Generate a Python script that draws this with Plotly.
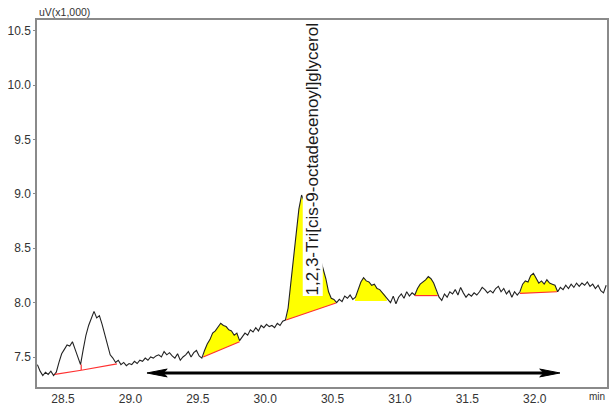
import numpy as np
import plotly.graph_objects as go

# ---- data ----
t0 = 28.31
dt = 0.02
signal = [
    7.43, 7.37, 7.33, 7.36, 7.34, 7.37, 7.33, 7.36, 7.45, 7.53,
    7.57, 7.61, 7.60, 7.64, 7.57, 7.50, 7.43, 7.57, 7.70, 7.79,
    7.85, 7.92, 7.86, 7.88, 7.80, 7.71, 7.60, 7.52, 7.49, 7.45,
    7.47, 7.43, 7.45, 7.42, 7.44, 7.43, 7.46, 7.44, 7.47, 7.46,
    7.49, 7.47, 7.50, 7.49, 7.51, 7.52, 7.50, 7.55, 7.52, 7.54,
    7.51, 7.49, 7.53, 7.47, 7.50, 7.52, 7.55, 7.50, 7.54, 7.56,
    7.51, 7.49, 7.56, 7.62, 7.66, 7.72, 7.74, 7.77, 7.81, 7.79,
    7.78, 7.75, 7.74, 7.70, 7.72, 7.65, 7.69, 7.72, 7.70, 7.75,
    7.73, 7.77, 7.74, 7.79, 7.77, 7.80, 7.78, 7.79, 7.77, 7.81,
    7.79, 7.83, 7.84, 7.95, 8.18, 8.42, 8.66, 8.86, 8.99, 8.93,
    8.85, 8.76, 8.67, 8.58, 8.50, 8.42, 8.32, 8.22, 8.10, 8.04,
    8.03, 8.00, 8.03, 8.01, 8.06, 8.04, 8.07, 8.03, 8.05, 8.12,
    8.19, 8.23, 8.20, 8.19, 8.16, 8.17, 8.13, 8.12, 8.09, 8.07,
    8.04, 8.00, 8.06, 7.99, 8.05, 8.08, 8.04, 8.10, 8.06, 8.09,
    8.07, 8.13, 8.17, 8.19, 8.21, 8.24, 8.22, 8.18, 8.11, 8.05,
    8.02, 8.08, 8.05, 8.10, 8.08, 8.12, 8.07, 8.14, 8.09, 8.05,
    8.08, 8.06, 8.09, 8.07, 8.10, 8.14, 8.12, 8.09, 8.11, 8.09,
    8.13, 8.15, 8.10, 8.13, 8.08, 8.11, 8.05, 8.10, 8.07, 8.10,
    8.17, 8.20, 8.19, 8.25, 8.27, 8.22, 8.18, 8.20, 8.17, 8.21,
    8.18, 8.17, 8.16, 8.10, 8.14, 8.12, 8.16, 8.13, 8.17, 8.14,
    8.18, 8.15, 8.18, 8.16, 8.19, 8.15, 8.17, 8.13, 8.16, 8.11,
    8.09, 8.16,
]
times = np.round(t0 + dt * np.arange(len(signal)), 2)

peak_start = [28.44, 28.635, 29.54, 30.155, 30.666, 31.11, 31.89]
peak_end = [28.635, 28.90, 29.81, 30.525, 30.904, 31.28, 32.165]
base_start = [7.34, 7.378, 7.50, 7.84, 8.015, 8.065, 8.085]
base_end = [7.378, 7.436, 7.64, 7.997, 8.015, 8.065, 8.10]
peak_filled = [False, False, True, True, True, True, True]
peak_redline = [True, True, True, True, False, True, True]

drop_time = 28.635
drop_top = 7.43

label_text = "1,2,3-Tri[cis-9-octadecenoyl]glycerol"
label_time = 30.35
label_level = 8.06

arrow_from = 29.123
arrow_to = 32.187
arrow_level = 7.353
arrow_head_len = 0.15    # minutes
arrow_head_half = 0.036  # uV(x1,000)

x_ticks = [28.5, 29.0, 29.5, 30.0, 30.5, 31.0, 31.5, 32.0]
y_ticks = [7.5, 8.0, 8.5, 9.0, 9.5, 10.0, 10.5]

# ---- figure ----
fig = go.Figure()
sig = np.array(signal)

# yellow peak areas
for ts, te, bs, be, f in zip(peak_start, peak_end, base_start, base_end, peak_filled):
    if not f:
        continue
    mask = (times > ts) & (times < te)
    px = [ts] + list(times[mask]) + [te]
    py = [bs] + list(sig[mask]) + [be]
    fig.add_trace(go.Scatter(x=px, y=py, fill="toself", fillcolor="#ffff00",
                             mode="lines", line=dict(width=0, color="#ffff00"),
                             hoverinfo="skip", showlegend=False))

# chromatogram trace
fig.add_trace(go.Scatter(x=times, y=signal, mode="lines",
                         line=dict(color="#222222", width=1.1),
                         showlegend=False))

# red baselines
for ts, te, bs, be, r in zip(peak_start, peak_end, base_start, base_end, peak_redline):
    if not r:
        continue
    fig.add_trace(go.Scatter(x=[ts, te], y=[bs, be], mode="lines",
                             line=dict(color="#ff3030", width=1.2),
                             hoverinfo="skip", showlegend=False))
fig.add_trace(go.Scatter(x=[drop_time, drop_time], y=[base_end[0], drop_top], mode="lines",
                         line=dict(color="#ff3030", width=1.2),
                         hoverinfo="skip", showlegend=False))

# double-headed arrow
fig.add_trace(go.Scatter(x=[arrow_from + arrow_head_len * 0.6, arrow_to - arrow_head_len * 0.6],
                         y=[arrow_level, arrow_level], mode="lines",
                         line=dict(color="black", width=3),
                         hoverinfo="skip", showlegend=False))
for tip, sgn in ((arrow_from, 1), (arrow_to, -1)):
    back = tip + sgn * arrow_head_len
    fig.add_trace(go.Scatter(x=[tip, back, tip + sgn * arrow_head_len * 0.8, back, tip],
                             y=[arrow_level, arrow_level + arrow_head_half, arrow_level,
                                arrow_level - arrow_head_half, arrow_level],
                             fill="toself", fillcolor="black", mode="lines",
                             line=dict(color="black", width=1),
                             hoverinfo="skip", showlegend=False))

font_family = "Liberation Sans, Arial, sans-serif"

fig.add_annotation(x=label_time, y=label_level, xref="x", yref="y",
                   text=label_text, textangle=-90, showarrow=False,
                   xanchor="center", yanchor="bottom",
                   bgcolor="white", borderpad=0,
                   font=dict(family=font_family, size=17, color="#1a1a1a"))

fig.add_annotation(x=0, y=1, xref="paper", yref="paper", text="uV(x1,000)",
                   showarrow=False, xanchor="left", yanchor="bottom",
                   font=dict(family=font_family, size=10.5, color="#333333"))
fig.add_annotation(x=1, y=0, xref="paper", yref="paper", text="min",
                   showarrow=False, xanchor="right", yanchor="top", yshift=-2,
                   font=dict(family=font_family, size=10, color="#333333"))

axis_common = dict(showline=True, linecolor="#8a8a8a", linewidth=1.5, mirror=True,
                   showgrid=False, zeroline=False, tickformat=".1f", automargin=False,
                   tickfont=dict(family=font_family, size=12, color="#333333"))

fig.update_layout(
    width=611, height=405,
    margin=dict(l=37, r=4, t=20, b=18),
    paper_bgcolor="white", plot_bgcolor="white",
    xaxis=dict(range=[28.307, 32.536], tickvals=x_ticks, ticks="", **axis_common),
    yaxis=dict(range=[7.224, 10.60], tickvals=y_ticks, ticks="outside", ticklen=2,
               tickcolor="#8a8a8a", **axis_common),
)

fig.write_html("out.html")
